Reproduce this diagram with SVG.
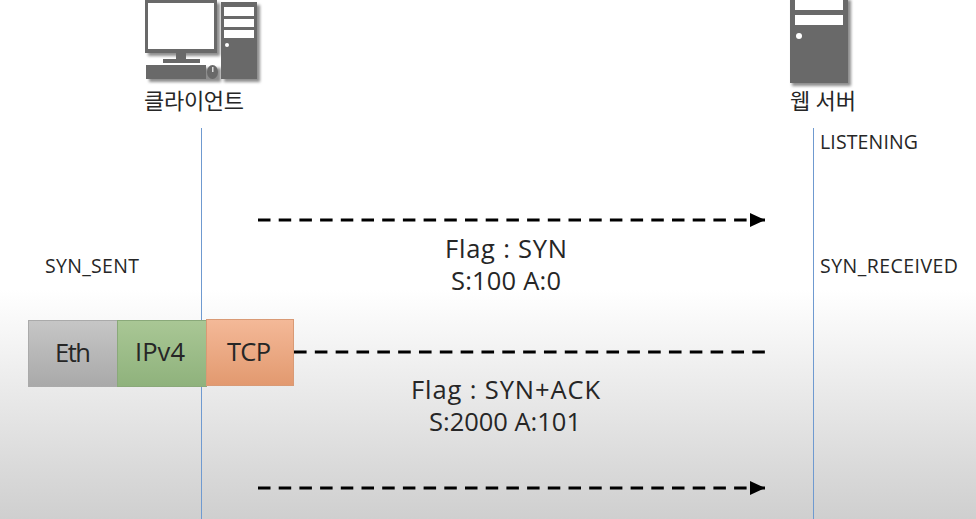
<svg xmlns="http://www.w3.org/2000/svg" width="976" height="519" viewBox="0 0 976 519">
<style>
text{font-family:"Open Sans","Noto Sans CJK KR",sans-serif;fill:#262626}
.s{font-size:19.500px}
.m{font-size:25.500px}
.k{font-family:"Noto Sans CJK KR",sans-serif;font-size:22px}
.life{stroke:#6f9ad0;stroke-width:1;fill:none}
.dash{stroke:#000;stroke-width:3;stroke-dasharray:12.500 8.200;fill:none}
.ic{fill:#696969}
.wh{fill:#fff}
.sh{fill:#8c8c8c;filter:url(#soft)}
</style>
<defs>
<filter id="soft" x="-10%" y="-10%" width="120%" height="120%"><feGaussianBlur stdDeviation="1.500"/></filter>
<linearGradient id="bg" x1="0" y1="0" x2="0" y2="1"><stop offset="0" stop-color="#fff"/><stop offset="1" stop-color="#cfcfcf"/></linearGradient>
<linearGradient id="gE" x1="0" y1="0" x2="0" y2="1"><stop offset="0" stop-color="#c6c6c6"/><stop offset="1" stop-color="#a9a9a9"/></linearGradient>
<linearGradient id="gI" x1="0" y1="0" x2="0" y2="1"><stop offset="0" stop-color="#a9c795"/><stop offset="1" stop-color="#8fb27c"/></linearGradient>
<linearGradient id="gT" x1="0" y1="0" x2="0" y2="1"><stop offset="0" stop-color="#f4b998"/><stop offset="1" stop-color="#e2996f"/></linearGradient>
<marker id="ah" markerUnits="userSpaceOnUse" markerWidth="16" markerHeight="16" refX="15" refY="8" orient="auto"><path d="M0 1L15 8L0 15Z" fill="#000"/></marker>
</defs>
<rect width="976" height="290" fill="#fff"/>
<rect y="290" width="976" height="229" fill="url(#bg)"/>
<g id="connectors">
<path class="life" d="M201.500 128V519"/>
<path class="life" d="M813.500 128V519"/>
<path class="dash" d="M258 220H765" marker-end="url(#ah)"/>
<path class="dash" d="M294 352H765" stroke-dasharray="12.600 8.230" style="stroke-dasharray:12.600 8.230"/>
<path class="dash" d="M258 488H765" marker-end="url(#ah)"/>
</g>
<g id="client">
<path class="sh" d="M148 3H220V56H148ZM224 5H260V82H224ZM149 68H221V82H149Z"/>
<rect class="ic" x="145" y="0" width="72" height="53"/>
<rect class="wh" x="148" y="3" width="66" height="46"/>
<rect class="ic" x="176" y="53" width="10" height="7"/>
<rect class="ic" x="163" y="59" width="37" height="4"/>
<rect class="ic" x="146" y="65" width="60" height="14"/>
<ellipse class="ic" cx="212.500" cy="72" rx="5.500" ry="7"/>
<rect x="212" y="67" width="1.500" height="5" fill="#ddd"/>
<rect class="ic" x="221" y="2" width="36" height="77"/>
<rect class="wh" x="224" y="7" width="30" height="9"/>
<rect class="wh" x="224" y="19" width="30" height="8"/>
<rect class="wh" x="224" y="30" width="30" height="8"/>
<circle class="wh" cx="227" cy="45" r="2"/>
<text class="k" x="144" y="109" textLength="100">클라이언트</text>
</g>
<g id="server">
<rect class="sh" x="792" y="0" width="59" height="86"/>
<rect class="ic" x="790" y="0" width="58" height="83"/>
<rect class="wh" x="795" y="0" width="48" height="10"/>
<rect class="wh" x="795" y="15" width="48" height="10"/>
<circle class="wh" cx="799" cy="36" r="3"/>
<text class="k" x="790" y="109" textLength="66">웹 서버</text>
</g>
<g id="listening"><text class="s" x="820" y="149" textLength="98">LISTENING</text></g>
<g id="syn-sent"><text class="s" x="45" y="273" textLength="94">SYN_SENT</text></g>
<g id="syn-received"><text class="s" x="820" y="273" textLength="138">SYN_RECEIVED</text></g>
<g id="label-syn">
<text class="m" x="445" y="258" textLength="122">Flag : SYN</text>
<text class="m" x="451" y="290" textLength="110">S:100 A:0</text>
</g>
<g id="label-synack">
<text class="m" x="411" y="399" textLength="189">Flag : SYN+ACK</text>
<text class="m" x="429" y="431" textLength="152">S:2000 A:101</text>
</g>
<g id="eth">
<rect x="28.500" y="320.500" width="89" height="66" fill="url(#gE)" stroke="#aaa"/>
<text class="m" x="55" y="362" textLength="36">Eth</text>
</g>
<g id="ipv4">
<rect x="117.500" y="320.500" width="89" height="66" fill="url(#gI)" stroke="#8aa97a"/>
<text class="m" x="135" y="361" textLength="50">IPv4</text>
</g>
<g id="tcp">
<rect x="206.500" y="319.500" width="87" height="66" fill="url(#gT)" stroke="#d99a75"/>
<text class="m" x="227" y="361" textLength="44">TCP</text>
</g>
</svg>
